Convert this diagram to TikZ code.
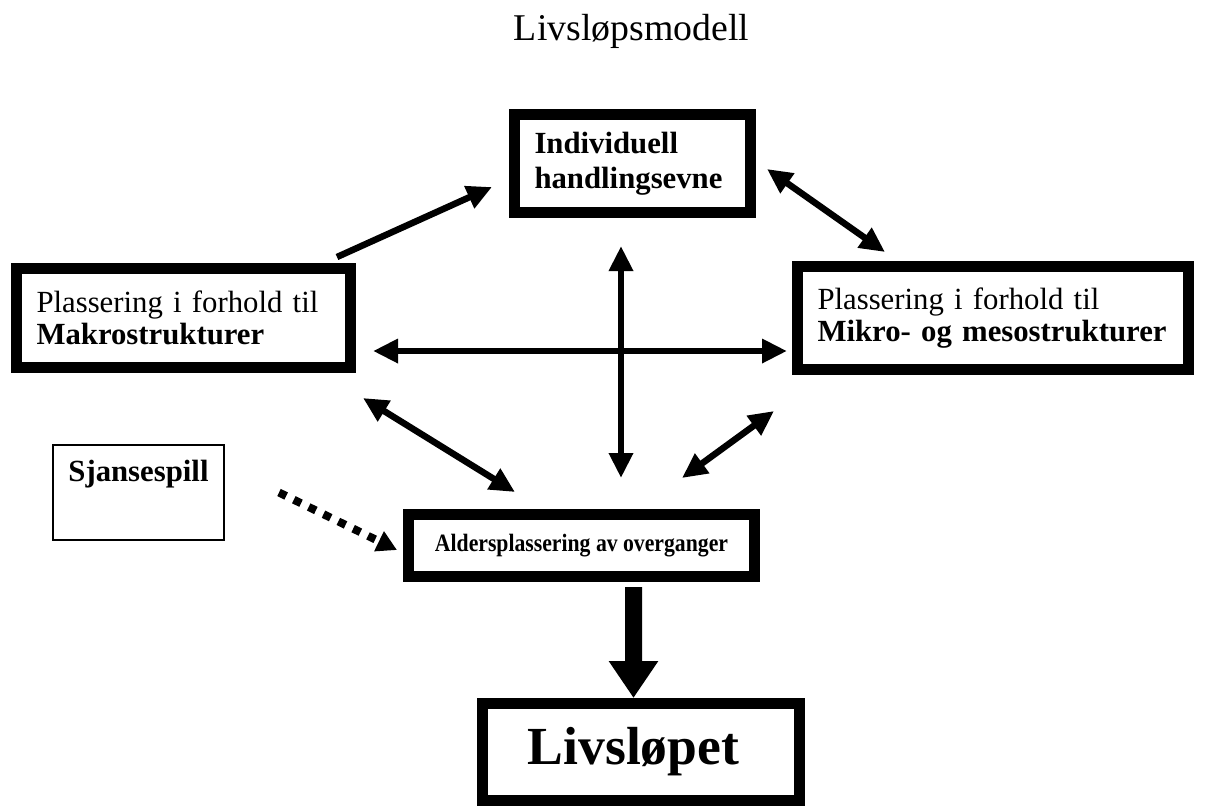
\documentclass[tikz,border=0pt]{standalone}
\usepackage{fontspec}
\setmainfont{Liberation Serif}
\usetikzlibrary{arrows.meta,calc}

\begin{document}
\begin{tikzpicture}[line cap=butt, line join=miter]

% ---------------- styles ----------------
\tikzset{
  Head/.tip={Triangle[length=0.5cm, width=0.46cm]},
  DotHead/.tip={Triangle[length=0.4cm, width=0.42cm]},
  BigHead/.tip={Triangle[length=0.74cm, width=0.94cm]},
  thickBox/.style={draw, line width=0.22cm, inner ysep=0pt, inner xsep=0.4cm, outer sep=0pt},
  thinBox/.style={draw, line width=0.8pt, inner sep=0pt, outer sep=0pt},
  txt/.style={font=\fontsize{17.5}{18}\selectfont},
  boldTxt/.style={font=\fontsize{17.5}{20}\selectfont\bfseries},
  oneArrow/.style={-Head, line width=0.13cm},
  biArrow/.style={Head-Head, line width=0.13cm},
  dotArrow/.style={-DotHead, line width=0.16cm, dash pattern=on 0.16cm off 0.17cm},
  bigArrow/.style={-BigHead, line width=0.34cm}
}

\useasboundingbox (0,0) rectangle (24.1,-16.18);

% ---------------- title ----------------
\node[anchor=base, font=\fontsize{21.5}{24}\selectfont] (title) at (12.63,-0.8) {Livsløpsmodell};

% ---------------- boxes ----------------
\node[thickBox, boldTxt, minimum width=4.72cm, minimum height=1.96cm, text width=3.92cm, align=left]
  (indiv) at (12.65,-3.27) {Individuell\\handlingsevne};
\node[thickBox, txt, minimum width=6.68cm, minimum height=1.98cm, text width=5.88cm, align=left]
  (makro) at (3.67,-6.36) {Plassering i forhold til\\\textbf{Makrostrukturer}};
\node[thickBox, txt, minimum width=7.82cm, minimum height=2.06cm, text width=7.02cm, align=left]
  (mikro) at (19.86,-6.36) {Plassering i forhold til\\\textbf{Mikro- og mesostrukturer}};
\node[thinBox, minimum width=3.42cm, minimum height=1.9cm] (sjanse) at (2.77,-9.85) {};
\node[boldTxt, anchor=base] (sjanseTxt) at ([yshift=-0.72cm]sjanse.north) {Sjansespill};
\node[thickBox, font=\fontsize{14.2}{17}\selectfont\bfseries, minimum width=6.92cm, minimum height=1.24cm]
  (alders) at (11.63,-10.91) {\scalebox{0.87}[1]{Aldersplassering av overganger}};
\node[thickBox, font=\fontsize{30.5}{34}\selectfont\bfseries, minimum width=6.34cm, minimum height=1.94cm]
  (livet) at (12.82,-15.04) {Livsløpet\kern0.3cm};

% ---------------- connectors ----------------
\draw[oneArrow] ([xshift=-0.27cm, yshift=0.23cm]makro.north east) -- ([xshift=-0.45cm, yshift=-0.47cm]indiv.west);
\draw[biArrow] ([xshift=0.33cm, yshift=-0.11cm]indiv.east) -- ([xshift=1.75cm, yshift=0.29cm]mikro.north west);
\draw[biArrow] ([xshift=0.45cm, yshift=-0.66cm]makro.east) -- ([xshift=-0.21cm, yshift=-0.66cm]mikro.west);
\draw[biArrow] ([xshift=-0.23cm, yshift=-0.67cm]indiv.south) -- ([xshift=0.79cm, yshift=0.73cm]alders.north);
\draw[biArrow] ([xshift=0.25cm, yshift=-0.61cm]makro.south east) -- ([xshift=2.13cm, yshift=0.45cm]alders.north west);
\draw[biArrow] ([xshift=-0.47cm, yshift=-0.83cm]mikro.south west) -- ([xshift=-1.45cm, yshift=0.73cm]alders.north east);

% chance: dotted
\draw[dotArrow] ([xshift=1.1cm]sjanse.east) -- ([xshift=-0.23cm, yshift=-0.09cm]alders.west);

% result
\draw[bigArrow] ([xshift=1.04cm, yshift=-0.21cm]alders.south) -- ([xshift=-0.15cm, yshift=0.11cm]livet.north);

\end{tikzpicture}
\end{document}
